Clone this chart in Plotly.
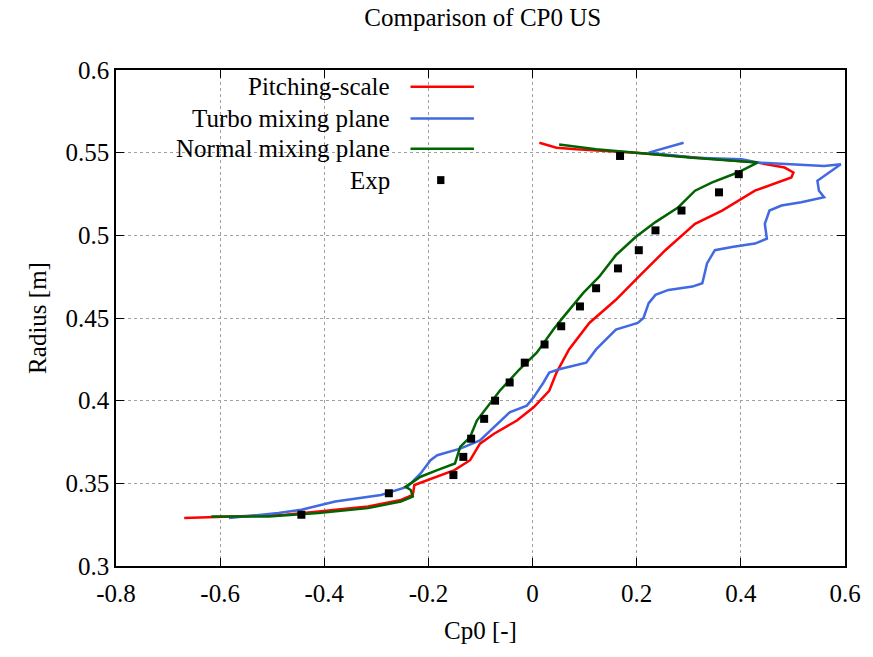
import plotly.graph_objects as go

# ---------------- data ----------------
pitch_x = [-0.669, -0.570, -0.474, -0.411, -0.316, -0.253, -0.230, -0.227, -0.202, -0.150,
           -0.120, -0.101, -0.074, -0.030, 0.002, 0.032, 0.046, 0.070, 0.109, 0.160,
           0.204, 0.255, 0.312, 0.364, 0.427, 0.470, 0.497, 0.501, 0.484, 0.432,
           0.312, 0.198, 0.084, 0.046, 0.013]
pitch_y = [0.329, 0.330, 0.331, 0.333, 0.336, 0.340, 0.343, 0.349, 0.352, 0.358,
           0.364, 0.374, 0.380, 0.388, 0.396, 0.406, 0.417, 0.431, 0.447, 0.461,
           0.475, 0.491, 0.507, 0.515, 0.527, 0.532, 0.535, 0.538, 0.541, 0.544,
           0.547, 0.550, 0.552, 0.553, 0.556]

turbo_x = [-0.583, -0.550, -0.488, -0.444, -0.379, -0.291, -0.240, -0.215, -0.196, -0.183,
           -0.139, -0.101, -0.074, -0.044, -0.011, 0.002, 0.021, 0.032, 0.051, 0.103,
           0.122, 0.141, 0.160, 0.202, 0.213, 0.223, 0.236, 0.261, 0.307, 0.326,
           0.335, 0.350, 0.383, 0.427, 0.450, 0.446, 0.455, 0.478, 0.516, 0.560,
           0.550, 0.547, 0.560, 0.579, 0.592, 0.560, 0.484, 0.432, 0.402, 0.312,
           0.223, 0.255, 0.290]
turbo_y = [0.329, 0.330, 0.332, 0.334, 0.339, 0.343, 0.348, 0.356, 0.364, 0.367,
           0.371, 0.376, 0.384, 0.393, 0.397, 0.402, 0.411, 0.417, 0.419, 0.423,
           0.431, 0.437, 0.443, 0.447, 0.450, 0.459, 0.464, 0.467, 0.469, 0.471,
           0.483, 0.491, 0.493, 0.495, 0.498, 0.507, 0.515, 0.518, 0.520, 0.523,
           0.527, 0.533, 0.536, 0.540, 0.543, 0.542, 0.543, 0.544, 0.546, 0.547,
           0.550, 0.553, 0.556]

normal_x = [-0.617, -0.507, -0.411, -0.316, -0.253, -0.230, -0.234, -0.244, -0.234, -0.215,
            -0.183, -0.149, -0.139, -0.120, -0.107, -0.088, -0.063, -0.025, 0.008, 0.040,
            0.055, 0.097, 0.128, 0.160, 0.198, 0.236, 0.280, 0.312, 0.345, 0.394,
            0.432, 0.307, 0.198, 0.122, 0.051]
normal_y = [0.330, 0.330, 0.332, 0.335, 0.339, 0.342, 0.346, 0.348, 0.350, 0.354,
            0.358, 0.362, 0.372, 0.378, 0.388, 0.396, 0.406, 0.419, 0.429, 0.443,
            0.449, 0.465, 0.475, 0.488, 0.499, 0.508, 0.517, 0.527, 0.532, 0.538,
            0.544, 0.547, 0.550, 0.552, 0.555]

exp_x = [0.168, 0.396, 0.358, 0.286, 0.236, 0.204, 0.164, 0.122, 0.091, 0.055,
         0.023, -0.015, -0.044, -0.072, -0.093, -0.118, -0.133, -0.152, -0.276, -0.444]
exp_y = [0.548, 0.537, 0.526, 0.515, 0.503, 0.491, 0.480, 0.468, 0.457, 0.445,
         0.434, 0.423, 0.411, 0.400, 0.389, 0.377, 0.366, 0.355, 0.344, 0.331]

x_ticks = [-0.8, -0.6, -0.4, -0.2, 0.0, 0.2, 0.4, 0.6]
x_tick_text = ["-0.8", "-0.6", "-0.4", "-0.2", "0", "0.2", "0.4", "0.6"]
y_ticks = [0.3, 0.35, 0.4, 0.45, 0.5, 0.55, 0.6]
y_tick_text = ["0.3", "0.35", "0.4", "0.45", "0.5", "0.55", "0.6"]

series_names = ["Pitching-scale", "Turbo mixing plane", "Normal mixing plane", "Exp"]
RED, BLUE, GREEN = "#ff0000", "#4169e1", "#006400"
FONT = "Liberation Serif, Times New Roman, serif"
FS = 25

# ---------------- figure ----------------
fig = go.Figure()
fig.add_trace(go.Scatter(x=pitch_x, y=pitch_y, mode="lines", name=series_names[0],
                         line=dict(color=RED, width=2.5)))
fig.add_trace(go.Scatter(x=turbo_x, y=turbo_y, mode="lines", name=series_names[1],
                         line=dict(color=BLUE, width=2.5)))
fig.add_trace(go.Scatter(x=normal_x, y=normal_y, mode="lines", name=series_names[2],
                         line=dict(color=GREEN, width=2.5)))
fig.add_trace(go.Scatter(x=exp_x, y=exp_y, mode="markers", name=series_names[3],
                         marker=dict(color="black", symbol="square", size=8)))

axis_common = dict(showline=True, linecolor="black", linewidth=1.5, mirror="allticks",
                   ticks="inside", ticklen=8, tickcolor="black", tickwidth=1,
                   showgrid=True, gridcolor="#a0a0a0", griddash="dot", gridwidth=1,
                   zeroline=False, tickfont=dict(family=FONT, size=FS, color="black"))

fig.update_xaxes(range=[-0.8, 0.6], tickvals=x_ticks, ticktext=x_tick_text,
                 ticklabelstandoff=4,
                 title=dict(text="Cp0 [-]", font=dict(family=FONT, size=FS, color="black"),
                            standoff=16),
                 **axis_common)
fig.update_yaxes(range=[0.3, 0.6], tickvals=y_ticks, ticktext=y_tick_text,
                 title=dict(text="Radius [m]", font=dict(family=FONT, size=FS, color="black"),
                            standoff=12),
                 **axis_common)

# custom gnuplot-style legend: text right-aligned, sample on the right
rows = [0.966, 0.902, 0.841, 0.778]
colors = [RED, BLUE, GREEN]
for i, name in enumerate(series_names):
    fig.add_annotation(xref="paper", yref="paper", x=0.378, y=rows[i], text=name,
                       showarrow=False, xanchor="right", yanchor="middle",
                       font=dict(family=FONT, size=FS, color="black"))
    if i < 3:
        fig.add_shape(type="line", xref="paper", yref="paper", x0=0.404, x1=0.491,
                      y0=rows[i], y1=rows[i], line=dict(color=colors[i], width=2.5))
    else:
        fig.add_shape(type="rect", xref="paper", yref="paper", x0=0.4405, x1=0.4505,
                      y0=rows[i] - 0.008, y1=rows[i] + 0.008,
                      fillcolor="black", line=dict(width=0))

fig.update_layout(
    width=873, height=657,
    margin=dict(l=116, r=22, t=70, b=91),
    paper_bgcolor="white", plot_bgcolor="white",
    showlegend=False,
    font=dict(family=FONT, size=FS, color="black"),
    title=dict(text="Comparison of CP0 US", x=0.553, xanchor="center", y=0.973,
               yanchor="middle", font=dict(family=FONT, size=FS, color="black")),
)

fig.write_html("out.html")
